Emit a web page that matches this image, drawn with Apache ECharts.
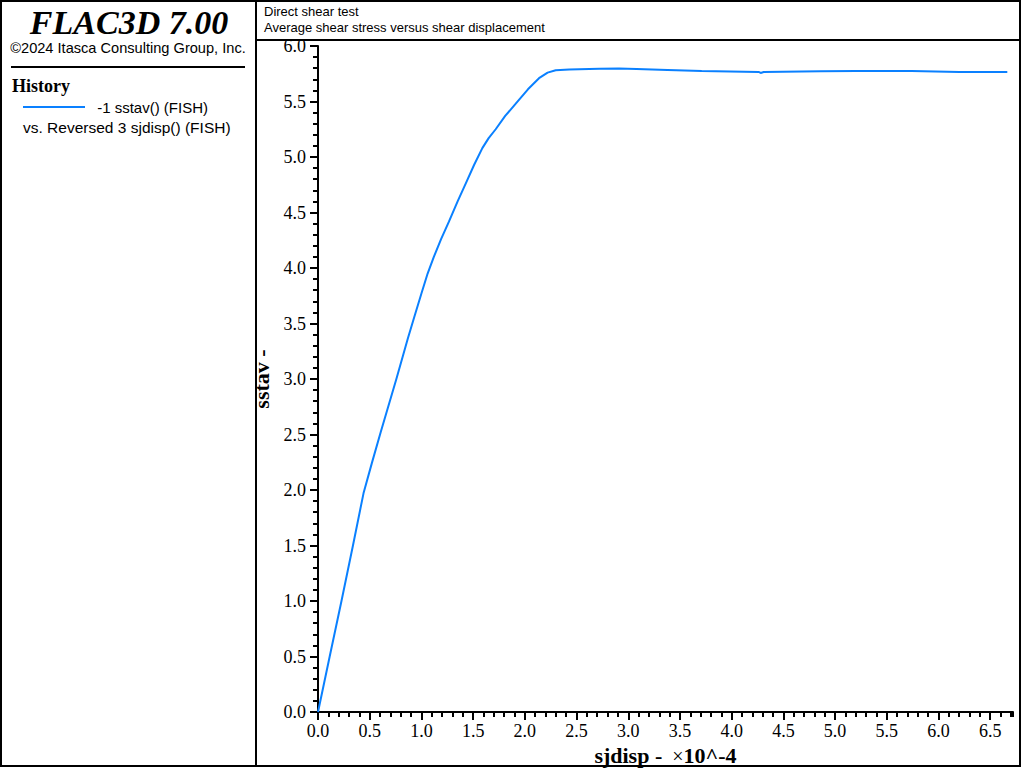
<!DOCTYPE html>
<html>
<head>
<meta charset="utf-8">
<script src="https://cdn.jsdelivr.net/npm/echarts@6/dist/echarts.min.js"></script>
<style>html,body{margin:0;padding:0;background:#fff}#c{width:1024px;height:768px}</style>
</head>
<body>
<div id="c"></div>
<script>
// Shear displacement (x 10^-4) and average shear stress
const sjdisp = [0, 0.113, 0.227, 0.338, 0.44, 0.52, 0.606, 0.757, 0.87, 0.928, 1.0, 1.06, 1.12, 1.19, 1.267, 1.35, 1.428, 1.51, 1.589, 1.65, 1.718, 1.81, 1.912, 2.03, 2.137, 2.22, 2.298, 2.43, 2.72, 2.91, 3.08, 3.38, 3.71, 4.26, 4.28, 4.31, 4.86, 5.2, 5.74, 6.2, 6.665];
const sstav  = [0, 0.5, 1.0, 1.5, 1.97, 2.24, 2.52, 2.997, 3.37, 3.55, 3.77, 3.95, 4.1, 4.26, 4.42, 4.6, 4.76, 4.93, 5.08, 5.17, 5.25, 5.37, 5.48, 5.61, 5.71, 5.76, 5.782, 5.788, 5.795, 5.797, 5.793, 5.784, 5.775, 5.766, 5.757, 5.766, 5.772, 5.775, 5.775, 5.766, 5.766];
const xTickStep = 0.5, yTickStep = 0.5, minorStep = 0.1;
const xMax = 6.72, yMax = 6.0;

const chart = echarts.init(document.getElementById('c'), null, {renderer: 'svg'});
const serif = 'Liberation Serif';
const blue = '#0a80ff';

const mainAxisCommon = {
  axisLine: {show: true, lineStyle: {color: '#000', width: 2}},
  axisTick: {show: true, length: 8, lineStyle: {color: '#000', width: 2}},
  splitLine: {show: false},
  axisLabel: {fontFamily: serif, fontSize: 18, color: '#000', formatter: v => v.toFixed(1)}
};
const minorAxisCommon = {
  axisLine: {show: false},
  axisTick: {show: true, length: 5, lineStyle: {color: '#000', width: 2}},
  axisLabel: {show: false},
  splitLine: {show: false}
};

chart.setOption({
  animation: false,
  backgroundColor: '#fff',
  grid: {left: 318, top: 46, right: 11, bottom: 56, containLabel: false, outerBoundsMode: 'none'},
  xAxis: [
    Object.assign({}, mainAxisCommon, {
      type: 'value', min: 0, max: xMax, interval: xTickStep,
      axisLabel: Object.assign({}, mainAxisCommon.axisLabel, {margin: 10, showMaxLabel: false}),
      name: '{b|sjdisp -}   {n|\u00d7}{b|10^-4}', nameLocation: 'middle', nameGap: 28,
      nameTextStyle: {rich: {
        b: {fontFamily: serif, fontWeight: 'bold', fontSize: 22, color: '#000'},
        n: {fontFamily: serif, fontSize: 20, color: '#000'}
      }}
    }),
    Object.assign({}, minorAxisCommon, {type: 'value', min: 0, max: xMax, interval: minorStep, position: 'bottom'})
  ],
  yAxis: [
    Object.assign({}, mainAxisCommon, {
      type: 'value', min: 0, max: yMax, interval: yTickStep,
      axisLabel: Object.assign({}, mainAxisCommon.axisLabel, {margin: 12}),
      name: 'sstav -', nameLocation: 'middle', nameGap: 39, nameRotate: 90,
      nameTextStyle: {fontFamily: serif, fontWeight: 'bold', fontSize: 22, color: '#000'}
    }),
    Object.assign({}, minorAxisCommon, {type: 'value', min: 0, max: yMax, interval: minorStep, position: 'left'})
  ],
  series: [{
    type: 'line',
    data: sjdisp.map((x, i) => [x, sstav[i]]),
    showSymbol: false,
    smooth: false,
    lineStyle: {color: blue, width: 2},
    z: 5
  }],
  graphic: [
    {type: 'rect', shape: {x: 1, y: 1, width: 255, height: 765}, style: {fill: 'none', stroke: '#000', lineWidth: 2}},
    {type: 'rect', shape: {x: 256, y: 1, width: 764, height: 765}, style: {fill: 'none', stroke: '#000', lineWidth: 2}},
    {type: 'line', shape: {x1: 256, y1: 40, x2: 1020, y2: 40}, style: {stroke: '#000', lineWidth: 2}},
    {type: 'text', x: 129, y: 22, style: {text: 'FLAC3D 7.00', font: 'italic bold 34px "Liberation Serif"', fill: '#000', textAlign: 'center', textVerticalAlign: 'middle'}},
    {type: 'text', x: 128, y: 48, style: {text: '\u00a92024 Itasca Consulting Group, Inc.', font: '14.6px "Liberation Sans"', fill: '#000', textAlign: 'center', textVerticalAlign: 'middle'}},
    {type: 'line', shape: {x1: 11, y1: 67, x2: 245, y2: 67}, style: {stroke: '#000', lineWidth: 2}},
    {type: 'text', x: 12, y: 86, style: {text: 'History', font: 'bold 18px "Liberation Serif"', fill: '#000', textAlign: 'left', textVerticalAlign: 'middle'}},
    {type: 'line', shape: {x1: 23, y1: 107, x2: 85, y2: 107}, style: {stroke: blue, lineWidth: 2}},
    {type: 'text', x: 208, y: 107, style: {text: '-1 sstav() (FISH)', font: '15px "Liberation Sans"', fill: '#000', textAlign: 'right', textVerticalAlign: 'middle'}},
    {type: 'text', x: 23, y: 127, style: {text: 'vs. Reversed 3 sjdisp() (FISH)', font: '15.5px "Liberation Sans"', fill: '#000', textAlign: 'left', textVerticalAlign: 'middle'}},
    {type: 'text', x: 264, y: 11, style: {text: 'Direct shear test', font: '13px "Liberation Sans"', fill: '#000', textAlign: 'left', textVerticalAlign: 'middle'}},
    {type: 'text', x: 264, y: 27, style: {text: 'Average shear stress versus shear displacement', font: '13px "Liberation Sans"', fill: '#000', textAlign: 'left', textVerticalAlign: 'middle'}}
  ]
});
</script>
</body>
</html>
